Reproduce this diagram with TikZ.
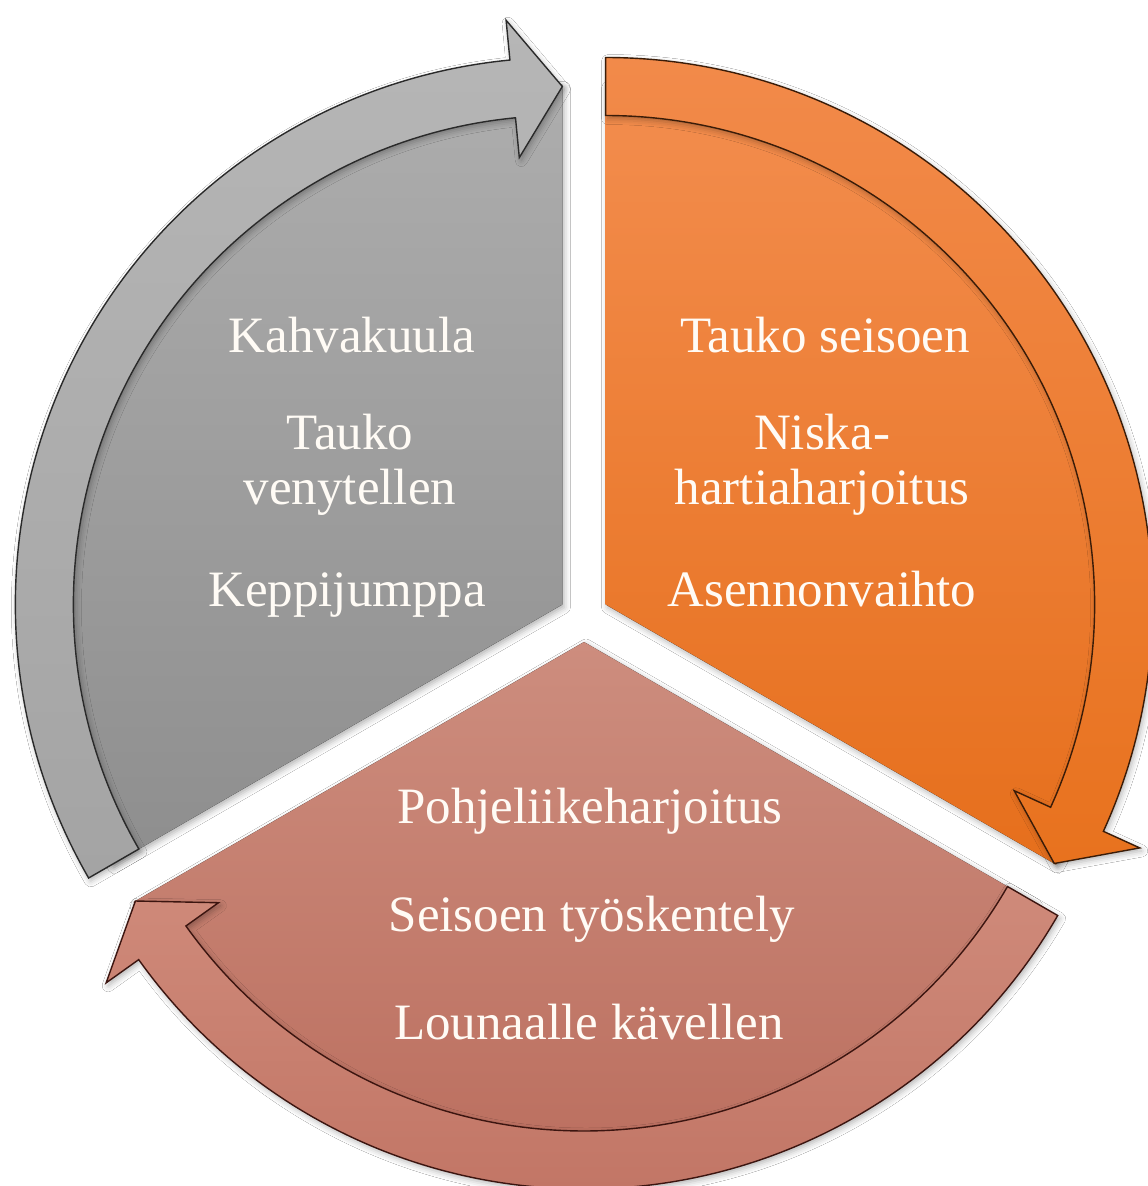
\documentclass[tikz,border=0pt]{standalone}
\usepackage{fontspec}
\setmainfont{Liberation Serif}
\usetikzlibrary{shadows.blur}
\definecolor{grayTop}{HTML}{ADADAD}
\definecolor{grayBot}{HTML}{8E8E8E}
\definecolor{grayArrTop}{HTML}{B6B6B6}
\definecolor{grayArrBot}{HTML}{A4A4A4}
\definecolor{grayLine}{HTML}{2A2A2A}
\definecolor{orTop}{HTML}{F38D4E}
\definecolor{orBot}{HTML}{E66F1C}
\definecolor{orArrTop}{HTML}{F28A4A}
\definecolor{orArrBot}{HTML}{E8721E}
\definecolor{orLine}{HTML}{3A1C08}
\definecolor{brTop}{HTML}{CD8D7E}
\definecolor{brBot}{HTML}{B96B5B}
\definecolor{brArrTop}{HTML}{CF8A7A}
\definecolor{brArrBot}{HTML}{C27666}
\definecolor{brLine}{HTML}{3C1510}
\definecolor{txt}{HTML}{FFFBF5}
\begin{document}
\begin{tikzpicture}[x=1pt,y=1pt,
  shad/.style={blur shadow={shadow xshift=2pt, shadow yshift=-3pt, shadow blur radius=6pt, shadow opacity=30}},
  arrline/.style={line width=1.4pt, line join=miter},
  lbl/.style={text=txt, font=\fontsize{51}{55}\selectfont, anchor=base, inner sep=0pt}
]
\useasboundingbox (0,0) rectangle (1148,-1186);
\fill[white] (0,0) rectangle (1148,-1186);
\coordinate (O) at (584,-617);

\begin{scope}[shift={(584,-617)}]
  % gray segment
  \begin{scope}[shift={(150:25)}]
    \fill[top color=grayTop, bottom color=grayBot, shad]
      (0,0) -- (90:520) arc[start angle=90, end angle=210, radius=520] -- cycle;
    \draw[arrline, draw=grayLine, top color=grayArrTop, bottom color=grayArrBot, shad]
      (210:547) arc[start angle=210, end angle=95.5, radius=547]
      -- (95.5:587) -- (90:518) -- (95.5:449) -- (95.5:489)
      arc[start angle=95.5, end angle=210, radius=489] -- cycle;
  \end{scope}
  % orange segment
  \begin{scope}[shift={(30:25)}]
    \fill[top color=orTop, bottom color=orBot, shad]
      (0,0) -- (-30:520) arc[start angle=-30, end angle=90, radius=520] -- cycle;
    \draw[arrline, draw=orLine, top color=orArrTop, bottom color=orArrBot, shad]
      (90:547) arc[start angle=90, end angle=-24.5, radius=547]
      -- (-24.5:587) -- (-30:518) -- (-24.5:449) -- (-24.5:489)
      arc[start angle=-24.5, end angle=90, radius=489] -- cycle;
  \end{scope}
  % brown segment
  \begin{scope}[shift={(270:25)}]
    \fill[top color=brTop, bottom color=brBot, shad]
      (0,0) -- (210:520) arc[start angle=210, end angle=330, radius=520] -- cycle;
    \draw[arrline, draw=brLine, top color=brArrTop, bottom color=brArrBot, shad]
      (-30:547) arc[start angle=-30, end angle=-144.5, radius=547]
      -- (-144.5:587) -- (-150:518) -- (-144.5:449) -- (-144.5:489)
      arc[start angle=-144.5, end angle=-30, radius=489] -- cycle;
  \end{scope}
\end{scope}

% gray texts
\node[lbl] (g1) at (352,-352) {Kahvakuula};
\node[lbl] (g2) at (350,-449) {Tauko};
\node[lbl] (g3) at (350,-504) {venytellen};
\node[lbl] (g4) at (347,-606) {Keppijumppa};
% orange texts
\node[lbl] (o1) at (825,-352) {Tauko seisoen};
\node[lbl] (o2) at (822,-449) {Niska-};
\node[lbl] (o3) at (822,-504) {hartiaharjoitus};
\node[lbl] (o4) at (822,-606) {Asennonvaihto};
% brown texts
\node[lbl] (b1) at (590,-823) {Pohjeliikeharjoitus};
\node[lbl] (b2) at (592,-931) {Seisoen työskentely};
\node[lbl] (b3) at (589,-1039) {Lounaalle kävellen};
\end{tikzpicture}
\end{document}
